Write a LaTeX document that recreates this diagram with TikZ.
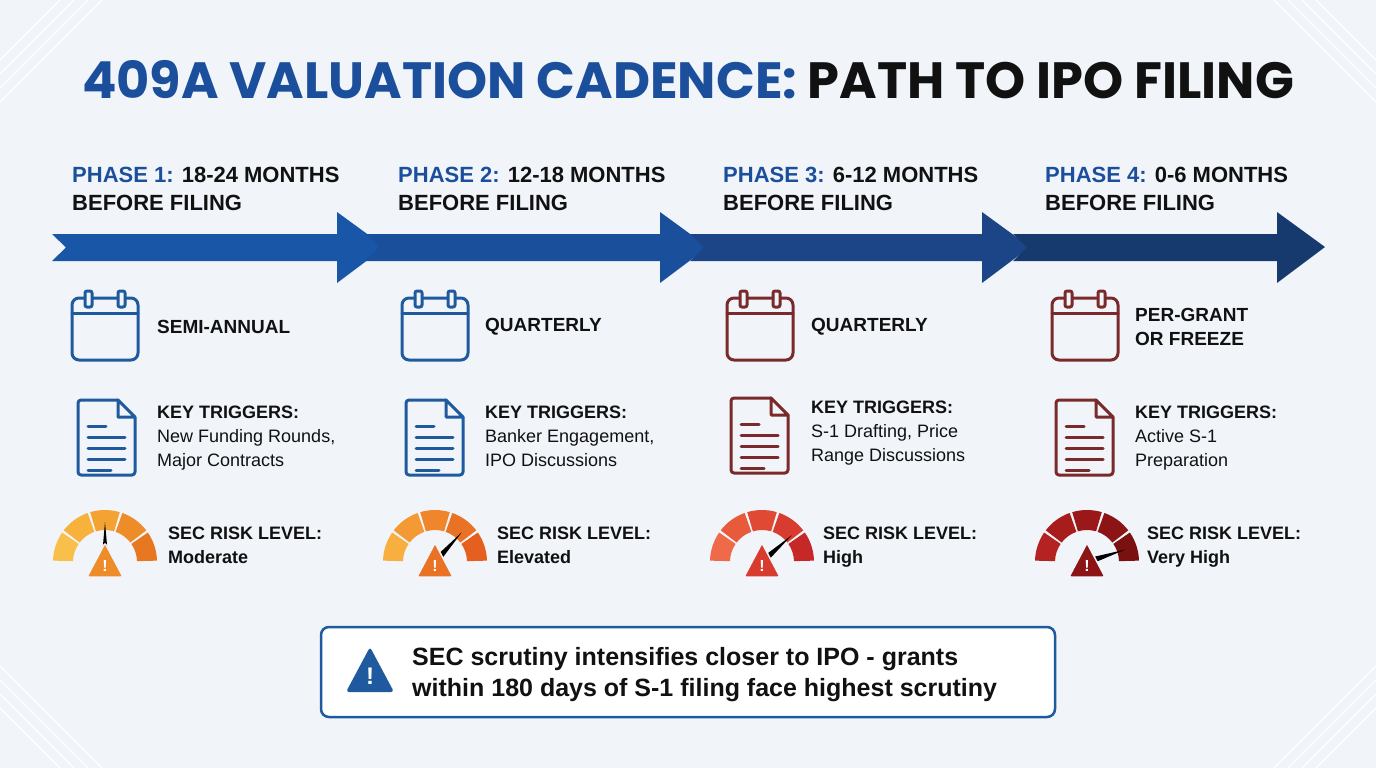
\documentclass[tikz,border=0pt]{standalone}
\usepackage{fontspec}
\setmainfont{Liberation Sans}
\newfontfamily\titlefont{Poppins Bold}
\usetikzlibrary{calc}
\definecolor{bg}{HTML}{F1F5FA}
\definecolor{tblue}{HTML}{1B4F9C}
\definecolor{ink}{HTML}{111111}
\definecolor{iblue}{HTML}{1F5A9E}
\definecolor{ired}{HTML}{7A2A2A}
\definecolor{aA}{HTML}{1A56A8}
\definecolor{aB}{HTML}{1A4F9C}
\definecolor{aC}{HTML}{1B4587}
\definecolor{aD}{HTML}{173A6E}
\tikzset{
  phasehead/.style={anchor=north west,align=left,font=\bfseries\fontsize{22}{28}\selectfont,text=ink,inner sep=0},
  label1/.style={anchor=west,align=left,font=\bfseries\fontsize{19}{24}\selectfont,text=ink,inner sep=0},
  trig/.style={anchor=north west,align=left,font=\fontsize{18}{24}\selectfont,text=ink,inner sep=0},
  iconline/.style={line width=3pt,line cap=round,line join=round},
}
\newcommand{\chev}[3]{%
  \fill[#3] (#1,234) -- (#2-48,234) -- (#2-48,212) -- (#2,247) -- (#2-48,283) -- (#2-48,261) -- (#1,261) -- (#1+14,247.5) -- cycle;}
\newcommand{\calicon}[3]{%
  \draw[iconline,#3,rounded corners=7pt] (#1,#2) rectangle (#1+66,#2+62);
  \draw[iconline,#3] (#1,#2+15) -- (#1+66,#2+15);
  \draw[iconline,#3,fill=bg,rounded corners=2pt] (#1+13,#2-7) rectangle (#1+20,#2+9);
  \draw[iconline,#3,fill=bg,rounded corners=2pt] (#1+46,#2-7) rectangle (#1+53,#2+9);}
\newcommand{\docicon}[3]{%
  \draw[iconline,#3,rounded corners=3pt] (#1+40,#2) -- (#1,#2) -- (#1,#2+75) -- (#1+57,#2+75) -- (#1+57,#2+17);
  \draw[iconline,#3] (#1+40,#2) -- (#1+57,#2+17) -- (#1+40,#2+17) -- cycle;
  \draw[iconline,#3] (#1+10,#2+26) -- (#1+28,#2+26);
  \foreach \k in {1,2,3}{\draw[iconline,#3] (#1+10,#2+26+11*\k) -- (#1+47,#2+26+11*\k);}
  \draw[iconline,#3] (#1+10,#2+70) -- (#1+33,#2+70);}
\newcommand{\gauge}[8]{%
  \coordinate (gc) at (#1,#2);
  \foreach \col [count=\i from 0] in {#3,#4,#5,#6,#7}{
    \definecolor{segc}{HTML}{\col}
    \pgfmathsetmacro\aa{180+36*\i+1.5}\pgfmathsetmacro\ab{180+36*(\i+1)-1.5}
    \fill[segc] ($(gc)+(\aa:52)$) arc[start angle=\aa,end angle=\ab,radius=52] -- ($(gc)+(\ab:32)$) arc[start angle=\ab,end angle=\aa,radius=32] -- cycle;}
  \fill[black] ($(gc)+(#8+90:3.5)$) -- ($(gc)+(#8:40)$) -- ($(gc)+(#8-90:3.5)$) -- cycle;
  \definecolor{triC}{HTML}{#6}
  \fill[triC,rounded corners=2pt,draw=bg,line width=1.5pt] (#1,#2-19) -- (#1+18,#2+15) -- (#1-18,#2+15) -- cycle;
  \node[text=white,font=\bfseries\fontsize{16}{16}\selectfont,inner sep=0] at (#1,#2+4) {!};}
\begin{document}
\begin{tikzpicture}[x=1pt,y=-1pt]
\useasboundingbox (0,0) rectangle (1376,768);
\fill[bg] (0,0) rectangle (1376,768);
\foreach \d in {0,14,28,42}{
  \draw[white,line width=1.2pt] (0,60+\d) -- (60+\d,0);
  \draw[white,line width=1.2pt] (1376,60+\d) -- (1316-\d,0);
  \draw[white,line width=1.2pt] (0,708-\d) -- (60+\d,768);
  \draw[white,line width=1.2pt] (1376,708-\d) -- (1316-\d,768);}
\node[font=\titlefont\fontsize{51}{54}\selectfont,inner sep=0] (title) at (688,80) {\textcolor{tblue}{409A VALUATION CADENCE:} \textcolor{ink}{PATH TO IPO FILING}};
\chev{52}{385}{aA}
\chev{365}{708}{aB}
\chev{690}{1030}{aC}
\chev{1013}{1325}{aD}
\node[phasehead] (p1) at (72,167) {\textcolor{tblue}{PHASE 1:} 18-24 MONTHS\\BEFORE FILING};
\node[phasehead] (p2) at (398,167) {\textcolor{tblue}{PHASE 2:} 12-18 MONTHS\\BEFORE FILING};
\node[phasehead] (p3) at (723,167) {\textcolor{tblue}{PHASE 3:} 6-12 MONTHS\\BEFORE FILING};
\node[phasehead] (p4) at (1045,167) {\textcolor{tblue}{PHASE 4:} 0-6 MONTHS\\BEFORE FILING};
\calicon{72}{298}{iblue}
\calicon{402}{298}{iblue}
\calicon{727}{298}{ired}
\calicon{1052}{298}{ired}
\node[label1] (c1) at (157,327) {SEMI-ANNUAL};
\node[label1] (c2) at (485,327) {QUARTERLY};
\node[label1] (c3) at (811,327) {QUARTERLY};
\node[label1] (c4) at (1135,327) {PER-GRANT\\OR FREEZE};
\docicon{78}{400}{iblue}
\docicon{406}{400}{iblue}
\docicon{731}{398}{ired}
\docicon{1056}{400}{ired}
\node[trig] (t1) at (157,406) {\textbf{KEY TRIGGERS:}\\New Funding Rounds,\\Major Contracts};
\node[trig] (t2) at (485,406) {\textbf{KEY TRIGGERS:}\\Banker Engagement,\\IPO Discussions};
\node[trig] (t3) at (811,401) {\textbf{KEY TRIGGERS:}\\S-1 Drafting, Price\\Range Discussions};
\node[trig] (t4) at (1135,406) {\textbf{KEY TRIGGERS:}\\Active S-1\\Preparation};
\gauge{105}{562}{F8C04A}{F6B23A}{F4A332}{EE8C2A}{E87722}{270}
\gauge{435}{562}{F7B040}{F39A34}{EF862C}{EA7224}{E5601E}{312}
\gauge{762}{562}{EE6A48}{E85A3C}{E04A34}{D83C2E}{C62828}{318}
\gauge{1087}{562}{B52222}{A81C1C}{9A1818}{8C1414}{7A1010}{342}
\node[trig] (g1) at (168,527) {\textbf{SEC RISK LEVEL:}\\\textbf{Moderate}};
\node[trig] (g2) at (497,527) {\textbf{SEC RISK LEVEL:}\\\textbf{Elevated}};
\node[trig] (g3) at (823,527) {\textbf{SEC RISK LEVEL:}\\\textbf{High}};
\node[trig] (g4) at (1147,527) {\textbf{SEC RISK LEVEL:}\\\textbf{Very High}};
\draw[iblue,line width=2.5pt,fill=white,rounded corners=8pt] (321,627) rectangle (1055,717);
\fill[iblue,rounded corners=3pt] (370,647) -- (394,692) -- (346,692) -- cycle;
\node[text=white,font=\bfseries\fontsize{24}{24}\selectfont,inner sep=0] at (370,676) {!};
\node[anchor=west,align=left,font=\bfseries\fontsize{25}{31}\selectfont,text=ink,inner sep=0] (note) at (412,675) {SEC scrutiny intensifies closer to IPO - grants\\within 180 days of S-1 filing face highest scrutiny};
\end{tikzpicture}
\end{document}
